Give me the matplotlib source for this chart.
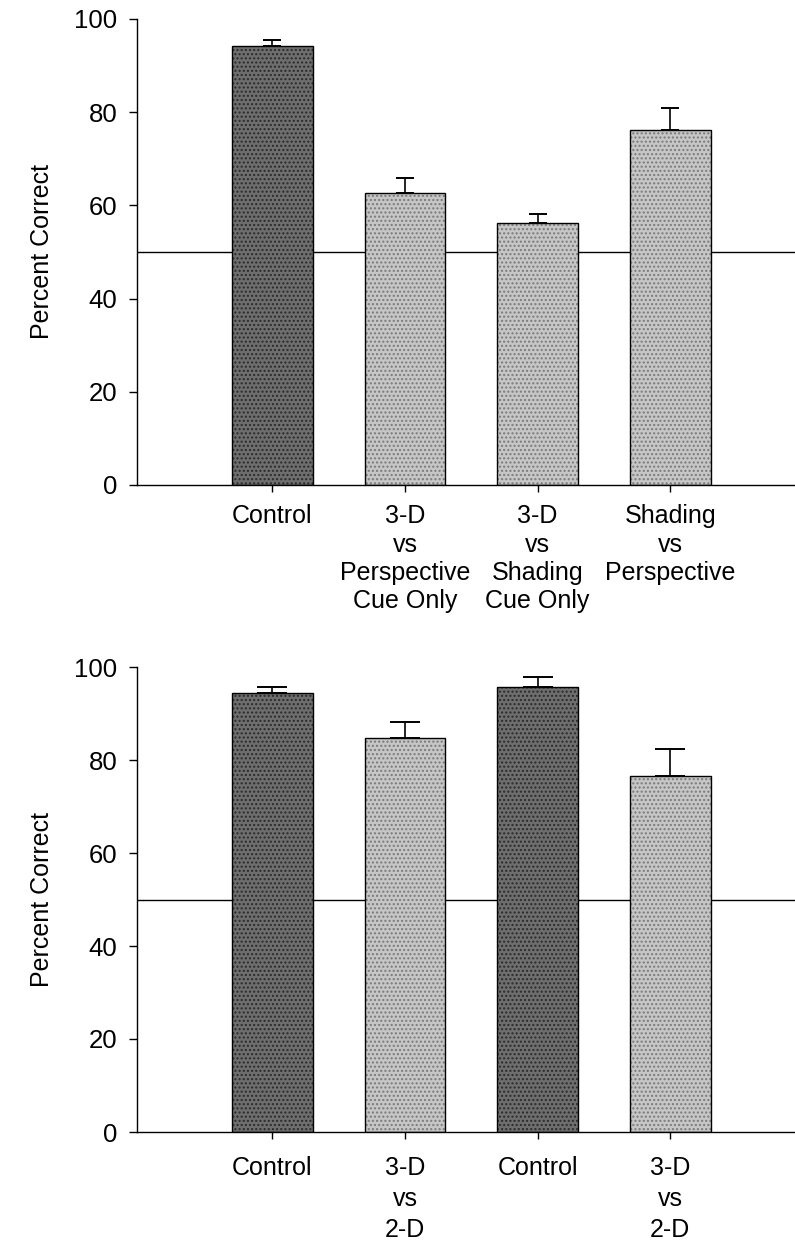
import matplotlib
matplotlib.use("Agg")
import matplotlib.pyplot as plt

plt.rcParams["font.family"] = ["Liberation Sans", "DejaVu Sans"]
plt.rcParams["hatch.linewidth"] = 1.0

# panel A
labels_a = ["Control", "3-D\nvs\nPerspective\nCue Only", "3-D\nvs\nShading\nCue Only", "Shading\nvs\nPerspective"]
means_a = [94.3, 62.7, 56.3, 76.2]
err_a = [1.2, 3.1, 1.9, 4.6]
dark_a = [True, False, False, False]

# panel B
labels_b = ["Control", "3-D\nvs\n2-D", "Control", "3-D\nvs\n2-D"]
means_b = [94.4, 84.7, 95.7, 76.6]
err_b = [1.2, 3.5, 2.1, 5.8]
dark_b = [True, False, True, False]

chance = 50

W, H = 795, 1245
fig = plt.figure(figsize=(W / 100, H / 100), dpi=100)
fig.set_facecolor("white")


def panel(rect, labels, means, errs, dark, capsize, xpad, lsp):
    ax = fig.add_axes(rect)
    x = list(range(len(means)))
    face = ["#6e6e6e" if d else "#c6c6c6" for d in dark]
    dots = ["#2a2a2a" if d else "#7a7a7a" for d in dark]
    # stippled fill
    ax.bar(x, means, width=0.61, color=face, edgecolor=dots, linewidth=0,
           hatch="....", zorder=2)
    # outline
    ax.bar(x, means, width=0.61, fill=False, edgecolor="black", linewidth=1.0, zorder=3)
    ax.errorbar(x, means, yerr=[[0] * len(errs), errs], fmt="none", ecolor="black",
                elinewidth=1.2, capsize=capsize, capthick=1.4, zorder=4)
    ax.axhline(chance, color="black", linewidth=1.0, zorder=1)
    ax.set_xlim(-1.02, 3.94)
    ax.set_ylim(0, 100)
    ax.set_yticks([0, 20, 40, 60, 80, 100])
    ax.set_xticks(x)
    ax.set_xticklabels(labels, fontsize=18, linespacing=lsp)
    ax.tick_params(axis="y", labelsize=18.5, length=6, width=1, pad=8)
    ax.tick_params(axis="x", length=5, width=1, pad=xpad)
    for s in ["top", "right"]:
        ax.spines[s].set_visible(False)
    ax.spines["left"].set_linewidth(1)
    ax.spines["bottom"].set_linewidth(1)
    ax.set_ylabel("Percent Correct", fontsize=18, labelpad=15)
    return ax


panel([137 / W, 1 - 485 / H, 1 - 137 / W, (485 - 19) / H], labels_a, means_a, err_a, dark_a, 6.5, 9, 1.22)
panel([137 / W, 1 - 1132 / H, 1 - 137 / W, (1132 - 667) / H], labels_b, means_b, err_b, dark_b, 10.5, 12, 1.38)

fig.savefig("out.png", dpi=100)
